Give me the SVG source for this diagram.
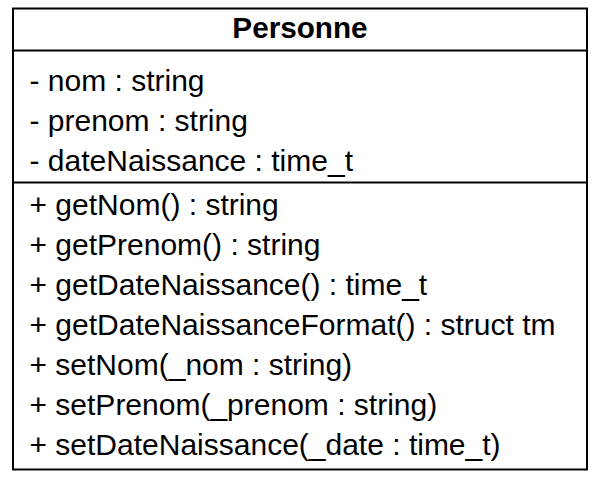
<svg xmlns="http://www.w3.org/2000/svg" width="602" height="479" viewBox="0 0 602 479">
<style>
.box{fill:#ffffff;stroke:#000000;stroke-width:2}
.sep{stroke:#000000;stroke-width:2}
.t{font-family:"Liberation Sans",Arial,sans-serif;font-size:30px;fill:#000000}
.title{font-family:"Liberation Sans",Arial,sans-serif;font-size:29.7px;font-weight:bold;fill:#000000}
</style>
<rect width="602" height="479" fill="#ffffff"/>
<g id="Personne">
<rect class="box" x="13" y="8.5" width="574" height="461"/>
<line class="sep" x1="13" y1="50.5" x2="587" y2="50.5"/>
<line class="sep" x1="13" y1="182.5" x2="587" y2="182.5"/>
<text class="title" x="300" y="37.5" text-anchor="middle">Personne</text>
<text class="t" x="29.5" y="90.5">- nom : string</text>
<text class="t" x="29.5" y="130.5">- prenom : string</text>
<text class="t" x="29.5" y="170.5">- dateNaissance : time_t</text>
<text class="t" x="29.5" y="214.5">+ getNom() : string</text>
<text class="t" x="29.5" y="254.5">+ getPrenom() : string</text>
<text class="t" x="29.5" y="294.5">+ getDateNaissance() : time_t</text>
<text class="t" x="29.5" y="334.5">+ getDateNaissanceFormat() : struct tm</text>
<text class="t" x="29.5" y="374.5">+ setNom(_nom : string)</text>
<text class="t" x="29.5" y="414.5">+ setPrenom(_prenom : string)</text>
<text class="t" x="29.5" y="454.5">+ setDateNaissance(_date : time_t)</text>
</g>
<g id="connectors"/>
</svg>
